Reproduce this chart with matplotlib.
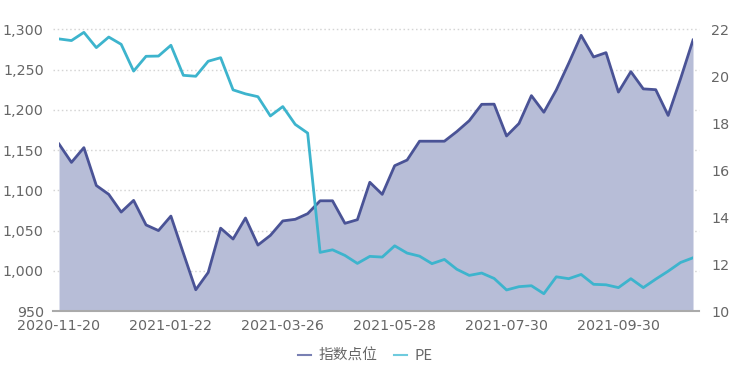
import matplotlib.pyplot as plt
import numpy as np

plt.rcParams['font.family'] = ['DejaVu Sans', 'Noto Sans CJK SC']

# weekly data, 2020-11-20 .. 2021-11-12
tick_labels = ['2020-11-20', '2021-01-22', '2021-03-26', '2021-05-28', '2021-07-30', '2021-09-30']
tick_index = [0, 9, 18, 27, 36, 45]

index_pts = [1157.5, 1134.7, 1153, 1106, 1095, 1073, 1087.5, 1057, 1050, 1068,
             1022, 976.5, 998, 1053, 1039.5, 1065.6, 1032, 1044, 1062, 1064,
             1071, 1087, 1087, 1059, 1063.5, 1110, 1095, 1130.6, 1137.6, 1161,
             1161, 1161, 1173, 1186.5, 1206.8, 1207, 1167.5, 1183, 1217.6, 1197,
             1224.6, 1257.8, 1292.5, 1265.6, 1271, 1222, 1247.4, 1226, 1225, 1193,
             1238.7, 1286.7]

pe = [21.59, 21.52, 21.87, 21.22, 21.67, 21.36, 20.22, 20.85, 20.86, 21.32,
      20.04, 20.0, 20.64, 20.79, 19.42, 19.25, 19.13, 18.31, 18.71, 17.95,
      17.58, 12.5, 12.61, 12.37, 12.03, 12.33, 12.30, 12.78, 12.47, 12.34,
      12.02, 12.2, 11.78, 11.52, 11.62, 11.39, 10.9, 11.04, 11.08, 10.74,
      11.46, 11.38, 11.56, 11.14, 11.12, 11.0, 11.38, 11.0, 11.36, 11.7,
      12.07, 12.27]

x = np.arange(len(index_pts))
line_col = '#4a5396'
fill_col = '#b7bdd7'
pe_col = '#3db4cd'
txt_col = '#666666'

fig = plt.figure(figsize=(7.51, 3.78), dpi=100)
ax = fig.add_axes([0.0786, 0.177, 0.8442, 0.7455])
ax2 = ax.twinx()

ax.fill_between(x, 950, index_pts, color=fill_col, lw=0, zorder=2)
ax.plot(x, index_pts, color=line_col, lw=2, zorder=3)
ax2.plot(x, pe, color=pe_col, lw=2, zorder=3)

ax.set_xlim(0, len(x) - 1)
ax.set_ylim(950, 1300)
ax2.set_ylim(10, 22)
ax.set_yticks(np.arange(950, 1301, 50))
ax2.set_yticks(np.arange(10, 23, 2))
ax.set_xticks(tick_index)
ax.set_xticklabels(tick_labels)

# dotted grid for the left axis, a bit wider than the data
for v in np.arange(1000, 1301, 50):
    ax.plot([-0.01, 1.01], [v, v], transform=ax.get_yaxis_transform(), color='#d4d4d4',
            lw=1, ls=(0, (1.1, 1.9)), clip_on=False, zorder=1)
ax.plot([-0.01, 1.01], [950, 950], transform=ax.get_yaxis_transform(), color='#aaaaaa',
        lw=1.5, clip_on=False, zorder=4)

for a in (ax, ax2):
    for s in a.spines.values():
        s.set_visible(False)
    a.tick_params(length=0, labelsize=10.3, colors=txt_col)
ax.tick_params(axis='x', pad=6)
ax.tick_params(axis='y', pad=11)
ax2.tick_params(axis='y', pad=13)
ax.yaxis.set_major_formatter(plt.FuncFormatter(lambda v, p: f'{int(v):,}'))

# legend with short thin handles
h1 = plt.Line2D([], [], color='#7980b3', lw=1.5)
h2 = plt.Line2D([], [], color='#6fcbde', lw=1.5)
fig.legend([h1, h2], ['指数点位', 'PE'], loc='center', bbox_to_anchor=(0.486, 0.058), ncol=2,
           frameon=False, prop={'family': ['Noto Sans CJK SC'], 'size': 10.6},
           labelcolor=txt_col, handlelength=0.9, columnspacing=1.1, handletextpad=0.5)

fig.savefig('out.png', dpi=100)
